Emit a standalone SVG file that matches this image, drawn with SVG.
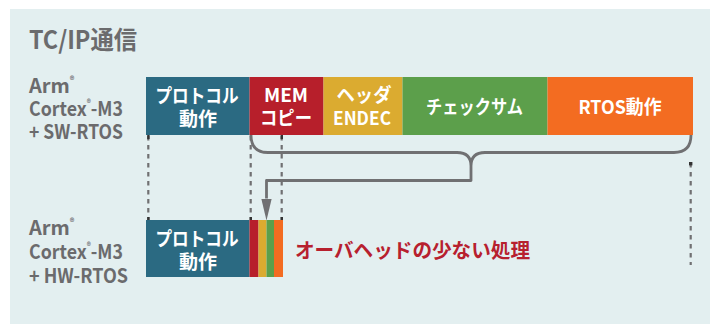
<svg xmlns="http://www.w3.org/2000/svg" width="718" height="324" viewBox="0 0 718 324">
<defs>
<style>
text{font-family:"Noto Sans CJK JP","Open Sans",sans-serif;font-weight:700}
.lbl{fill:#6b6b6d;font-size:20px}
.sup{font-size:9px}
.w{fill:#ffffff;font-size:19px;text-anchor:middle}
.dash{stroke:#707072;stroke-width:2.2;stroke-dasharray:4.5 4.5;fill:none}
.end{fill:#333333}
.con{stroke:#707072;stroke-width:2.8;fill:none;stroke-linejoin:round}
</style>
<marker id="ah" markerUnits="userSpaceOnUse" markerWidth="22" markerHeight="12" refX="0" refY="5" orient="auto" viewBox="0 0 21 10">
<path d="M0,0 L21,5 L0,10 Z" fill="#707072"/>
</marker>
</defs>
<rect x="10" y="9" width="700" height="315" fill="#e3eff0"/>
<text x="29" y="49" fill="#6b6b6d" font-size="25" textLength="108" lengthAdjust="spacingAndGlyphs">TC/IP通信</text>

<g id="label-sw">
<text class="lbl" x="29" y="93">Arm<tspan class="sup" dy="-9">®</tspan></text>
<text class="lbl" x="29" y="116" textLength="94" lengthAdjust="spacingAndGlyphs">Cortex<tspan class="sup" dy="-9">®</tspan><tspan dy="9">-M3</tspan></text>
<text class="lbl" x="29" y="139" textLength="94" lengthAdjust="spacingAndGlyphs">+ SW-RTOS</text>
</g>
<g id="label-hw">
<text class="lbl" x="29" y="235">Arm<tspan class="sup" dy="-9">®</tspan></text>
<text class="lbl" x="29" y="259" textLength="94" lengthAdjust="spacingAndGlyphs">Cortex<tspan class="sup" dy="-9">®</tspan><tspan dy="9">-M3</tspan></text>
<text class="lbl" x="29" y="283" textLength="99" lengthAdjust="spacingAndGlyphs">+ HW-RTOS</text>
</g>

<g id="sw-protocol">
<rect x="146" y="77" width="103.5" height="58" fill="#2b6a82"/>
<text class="w" x="197" y="103" textLength="83" lengthAdjust="spacingAndGlyphs">プロトコル</text>
<text class="w" x="198" y="126">動作</text>
</g>
<g id="sw-memcopy">
<rect x="249.5" y="77" width="74" height="58" fill="#b71f2b"/>
<text class="w" x="286" y="102" font-size="20">MEM</text>
<text class="w" x="286" y="125" textLength="52" lengthAdjust="spacingAndGlyphs">コピー</text>
</g>
<g id="sw-header">
<rect x="323.5" y="77" width="79" height="58" fill="#dbab30"/>
<text class="w" x="364" y="102" textLength="55" lengthAdjust="spacingAndGlyphs">ヘッダ</text>
<text class="w" x="362" y="125" font-size="20" textLength="58" lengthAdjust="spacingAndGlyphs">ENDEC</text>
</g>
<g id="sw-checksum">
<rect x="402.5" y="77" width="145" height="58" fill="#5c9f4b"/>
<text class="w" x="474.5" y="114" textLength="97" lengthAdjust="spacingAndGlyphs">チェックサム</text>
</g>
<g id="sw-rtos">
<rect x="547.5" y="77" width="145.5" height="58" fill="#f36c21"/>
<text class="w" x="620" y="114" font-size="20" textLength="83" lengthAdjust="spacingAndGlyphs">RTOS動作</text>
</g>

<g id="hw-protocol">
<rect x="146" y="220" width="103.5" height="57" fill="#2b6a82"/>
<text class="w" x="197" y="246" textLength="83" lengthAdjust="spacingAndGlyphs">プロトコル</text>
<text class="w" x="198" y="269">動作</text>
</g>
<g id="hw-overhead">
<rect x="249.5" y="220" width="9" height="57" fill="#b71f2b"/>
<rect x="258.5" y="220" width="8" height="57" fill="#dbab30"/>
<rect x="266.5" y="220" width="7.5" height="57" fill="#5c9f4b"/>
<rect x="274" y="220" width="9" height="57" fill="#f36c21"/>
</g>
<text x="295" y="258" fill="#b7202e" font-size="20" textLength="235" lengthAdjust="spacingAndGlyphs">オーバヘッドの少ない処理</text>

<g id="connectors">
<line class="dash" x1="148.3" y1="136" x2="148.3" y2="220"/>
<line class="dash" x1="250.7" y1="136" x2="250.7" y2="220"/>
<line class="dash" x1="281.7" y1="136" x2="281.7" y2="220"/>
<line class="dash" x1="690.7" y1="163" x2="690.7" y2="265"/>
<rect class="end" x="147.2" y="135" width="2.4" height="4"/>
<rect class="end" x="147.2" y="217" width="2.4" height="3"/>
<rect class="end" x="249.6" y="217" width="2.4" height="3"/>
<rect class="end" x="280.6" y="135" width="2.4" height="4"/>
<rect class="end" x="280.6" y="217" width="2.4" height="3"/>
<rect class="end" x="689" y="162" width="3.4" height="3.4"/>
<path class="con" d="M251,135 C251,147 257,152.5 268,152.5 L457,152.5 C466,152.5 471,157 471,166 M691,135 C691,147 685,152.5 674,152.5 L485,152.5 C476,152.5 471,157 471,166 L471,180.5 L266.5,180.5 L266.5,198.5" marker-end="url(#ah)"/>
</g>
</svg>
